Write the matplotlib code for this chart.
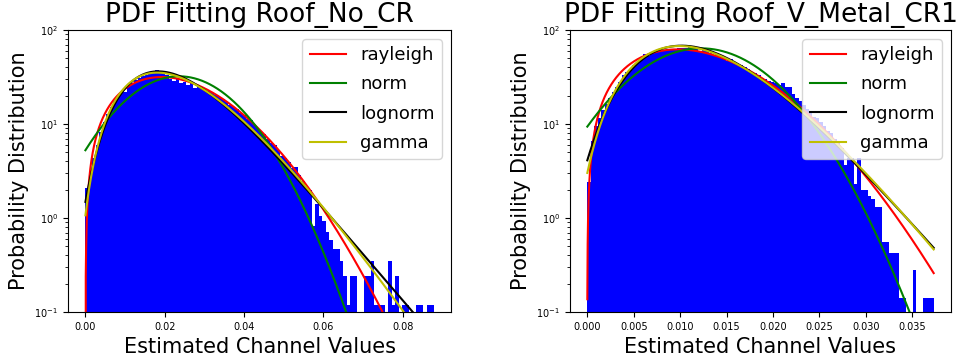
import math
import numpy as np
import matplotlib
matplotlib.use("Agg")
import matplotlib.pyplot as plt

# Histogram densities (100 bins each, from 0 to the data maximum)
no_cr_max = 0.0878
no_cr_density = [
    2.1, 3.0, 4.4, 6.0, 8.2, 10.5, 12.9, 15.3, 17.8, 20.5,
    22.0, 22.0, 25.5, 27.5, 29.5, 31.0, 32.5, 33.5, 35.5, 36.5,
    37.5, 36.0, 35.0, 33.5, 30.0, 29.0, 30.0, 27.5, 28.0, 26.0,
    27.0, 24.0, 25.5, 24.0, 23.5, 22.5, 21.5, 20.5, 19.5, 18.3,
    17.0, 16.0, 15.0, 14.5, 13.2, 12.5, 11.3, 11.0, 9.8, 9.0,
    8.3, 7.8, 6.9, 6.3, 6.0, 5.3, 4.6, 4.3, 3.9, 3.4,
    3.5, 2.9, 2.5, 2.2, 2.0, 0.83, 1.42, 1.06, 0.94, 0.71,
    0.59, 0.47, 0.47, 0.35, 0.24, 0.12, 0.24, 0.24, 0.0, 0.0,
    0.24, 0.24, 0.35, 0.12, 0.12, 0.12, 0.0, 0.35, 0.12, 0.24,
    0.0, 0.12, 0.12, 0.0, 0.0, 0.12, 0.12, 0.0, 0.12, 0.12,
]

metal_max = 0.0373
metal_density = [
    2.4, 6.6, 9.5, 11.6, 14.0, 16.5, 19.0, 22.0, 25.0, 28.0,
    33.0, 35.5, 38.5, 42.5, 44.5, 47.5, 55.0, 53.0, 56.0, 58.0,
    60.0, 62.0, 60.5, 62.0, 63.5, 62.5, 64.0, 65.0, 64.0, 66.0,
    64.5, 62.5, 58.0, 61.0, 59.5, 57.0, 54.0, 55.5, 53.0, 51.0,
    47.0, 49.0, 45.0, 44.0, 42.0, 40.0, 38.5, 36.0, 35.0, 33.5,
    31.0, 30.0, 29.0, 28.0, 27.5, 26.0, 27.0, 25.0, 24.5, 21.0,
    19.0, 17.5, 16.0, 14.5, 13.0, 12.0, 11.5, 10.5, 9.5, 8.5,
    8.0, 7.0, 6.3, 5.5, 3.7, 4.4, 4.3, 2.3, 4.4, 2.0,
    2.0, 1.7, 1.6, 1.3, 1.3, 0.56, 0.56, 0.42, 0.42, 0.42,
    0.14, 0.14, 0.0, 0.0, 0.28, 0.0, 0.0, 0.14, 0.14, 0.14,
]

# Fitted distribution parameters
no_cr_fits = {
    "rayleigh": dict(loc=0.0, scale=0.0192),
    "norm": dict(loc=0.0236, scale=0.0124),
    "lognorm": dict(s=0.31, loc=-0.01543, scale=0.0372),
    "gamma": dict(a=5.0, loc=-0.0041, scale=0.00555),
}
metal_fits = {
    "rayleigh": dict(loc=-0.000013, scale=0.00975),
    "norm": dict(loc=0.01224, scale=0.00625),
    "lognorm": dict(s=0.25, loc=-0.01255, scale=0.02416),
    "gamma": dict(a=6.5, loc=-0.00376, scale=0.002483),
}

titles = ["PDF Fitting Roof_No_CR", "PDF Fitting Roof_V_Metal_CR1"]
no_cr_xticks = [0.00, 0.02, 0.04, 0.06, 0.08]
metal_xticks = [0.000, 0.005, 0.010, 0.015, 0.020, 0.025, 0.030, 0.035]
line_colors = {"rayleigh": "r", "norm": "g", "lognorm": "k", "gamma": "y"}


def rayleigh_pdf(x, loc, scale):
    y = (x - loc) / scale
    out = np.where(y > 0, y * np.exp(-0.5 * y ** 2) / scale, 0.0)
    return out


def norm_pdf(x, loc, scale):
    z = (x - loc) / scale
    return np.exp(-0.5 * z ** 2) / (scale * math.sqrt(2 * math.pi))


def lognorm_pdf(x, s, loc, scale):
    y = np.clip(x - loc, 1e-300, None)
    z = np.log(y / scale) / s
    return np.exp(-0.5 * z ** 2) / (y * s * math.sqrt(2 * math.pi))


def gamma_pdf(x, a, loc, scale):
    u = np.clip((x - loc) / scale, 1e-300, None)
    return np.exp((a - 1) * np.log(u) - u - math.lgamma(a)) / scale


pdfs = {"rayleigh": rayleigh_pdf, "norm": norm_pdf,
        "lognorm": lognorm_pdf, "gamma": gamma_pdf}

fig = plt.figure(figsize=(9.62, 3.63), dpi=100)
ax1 = fig.add_axes([68 / 962, 51 / 363, 383 / 962, 282 / 363])
ax2 = fig.add_axes([570 / 962, 51 / 363, 381 / 962, 282 / 363])

panels = [
    (ax1, no_cr_max, no_cr_density, no_cr_fits, no_cr_xticks, "%.2f"),
    (ax2, metal_max, metal_density, metal_fits, metal_xticks, "%.3f"),
]

for ax, xmax, dens, fits, xticks, fmt in panels:
    n = len(dens)
    edges = np.linspace(0.0, xmax, n + 1)
    centers = 0.5 * (edges[:-1] + edges[1:])
    ax.hist(centers, bins=edges, weights=dens, color="b", log=True,
            histtype="stepfilled", linewidth=0)
    xs = np.linspace(0.0, xmax, 1000)
    for name, params in fits.items():
        ax.plot(xs, pdfs[name](xs, **params), color=line_colors[name],
                linewidth=1.5, label=name)
    ax.set_yscale("log")
    ax.set_ylim(0.1, 100)
    ax.set_xticks(xticks)
    ax.set_xticklabels([fmt % t for t in xticks])
    ax.tick_params(labelsize=7)
    ax.set_xlabel("Estimated Channel Values", fontsize=15)
    ax.set_ylabel("Probability Distribution", fontsize=15)
    ax.legend(loc="upper right", fontsize=13, labelspacing=0.62)

ax1.set_title(titles[0], fontsize=19)
ax2.set_title(titles[1], fontsize=19)

fig.savefig("out.png", dpi=100)
